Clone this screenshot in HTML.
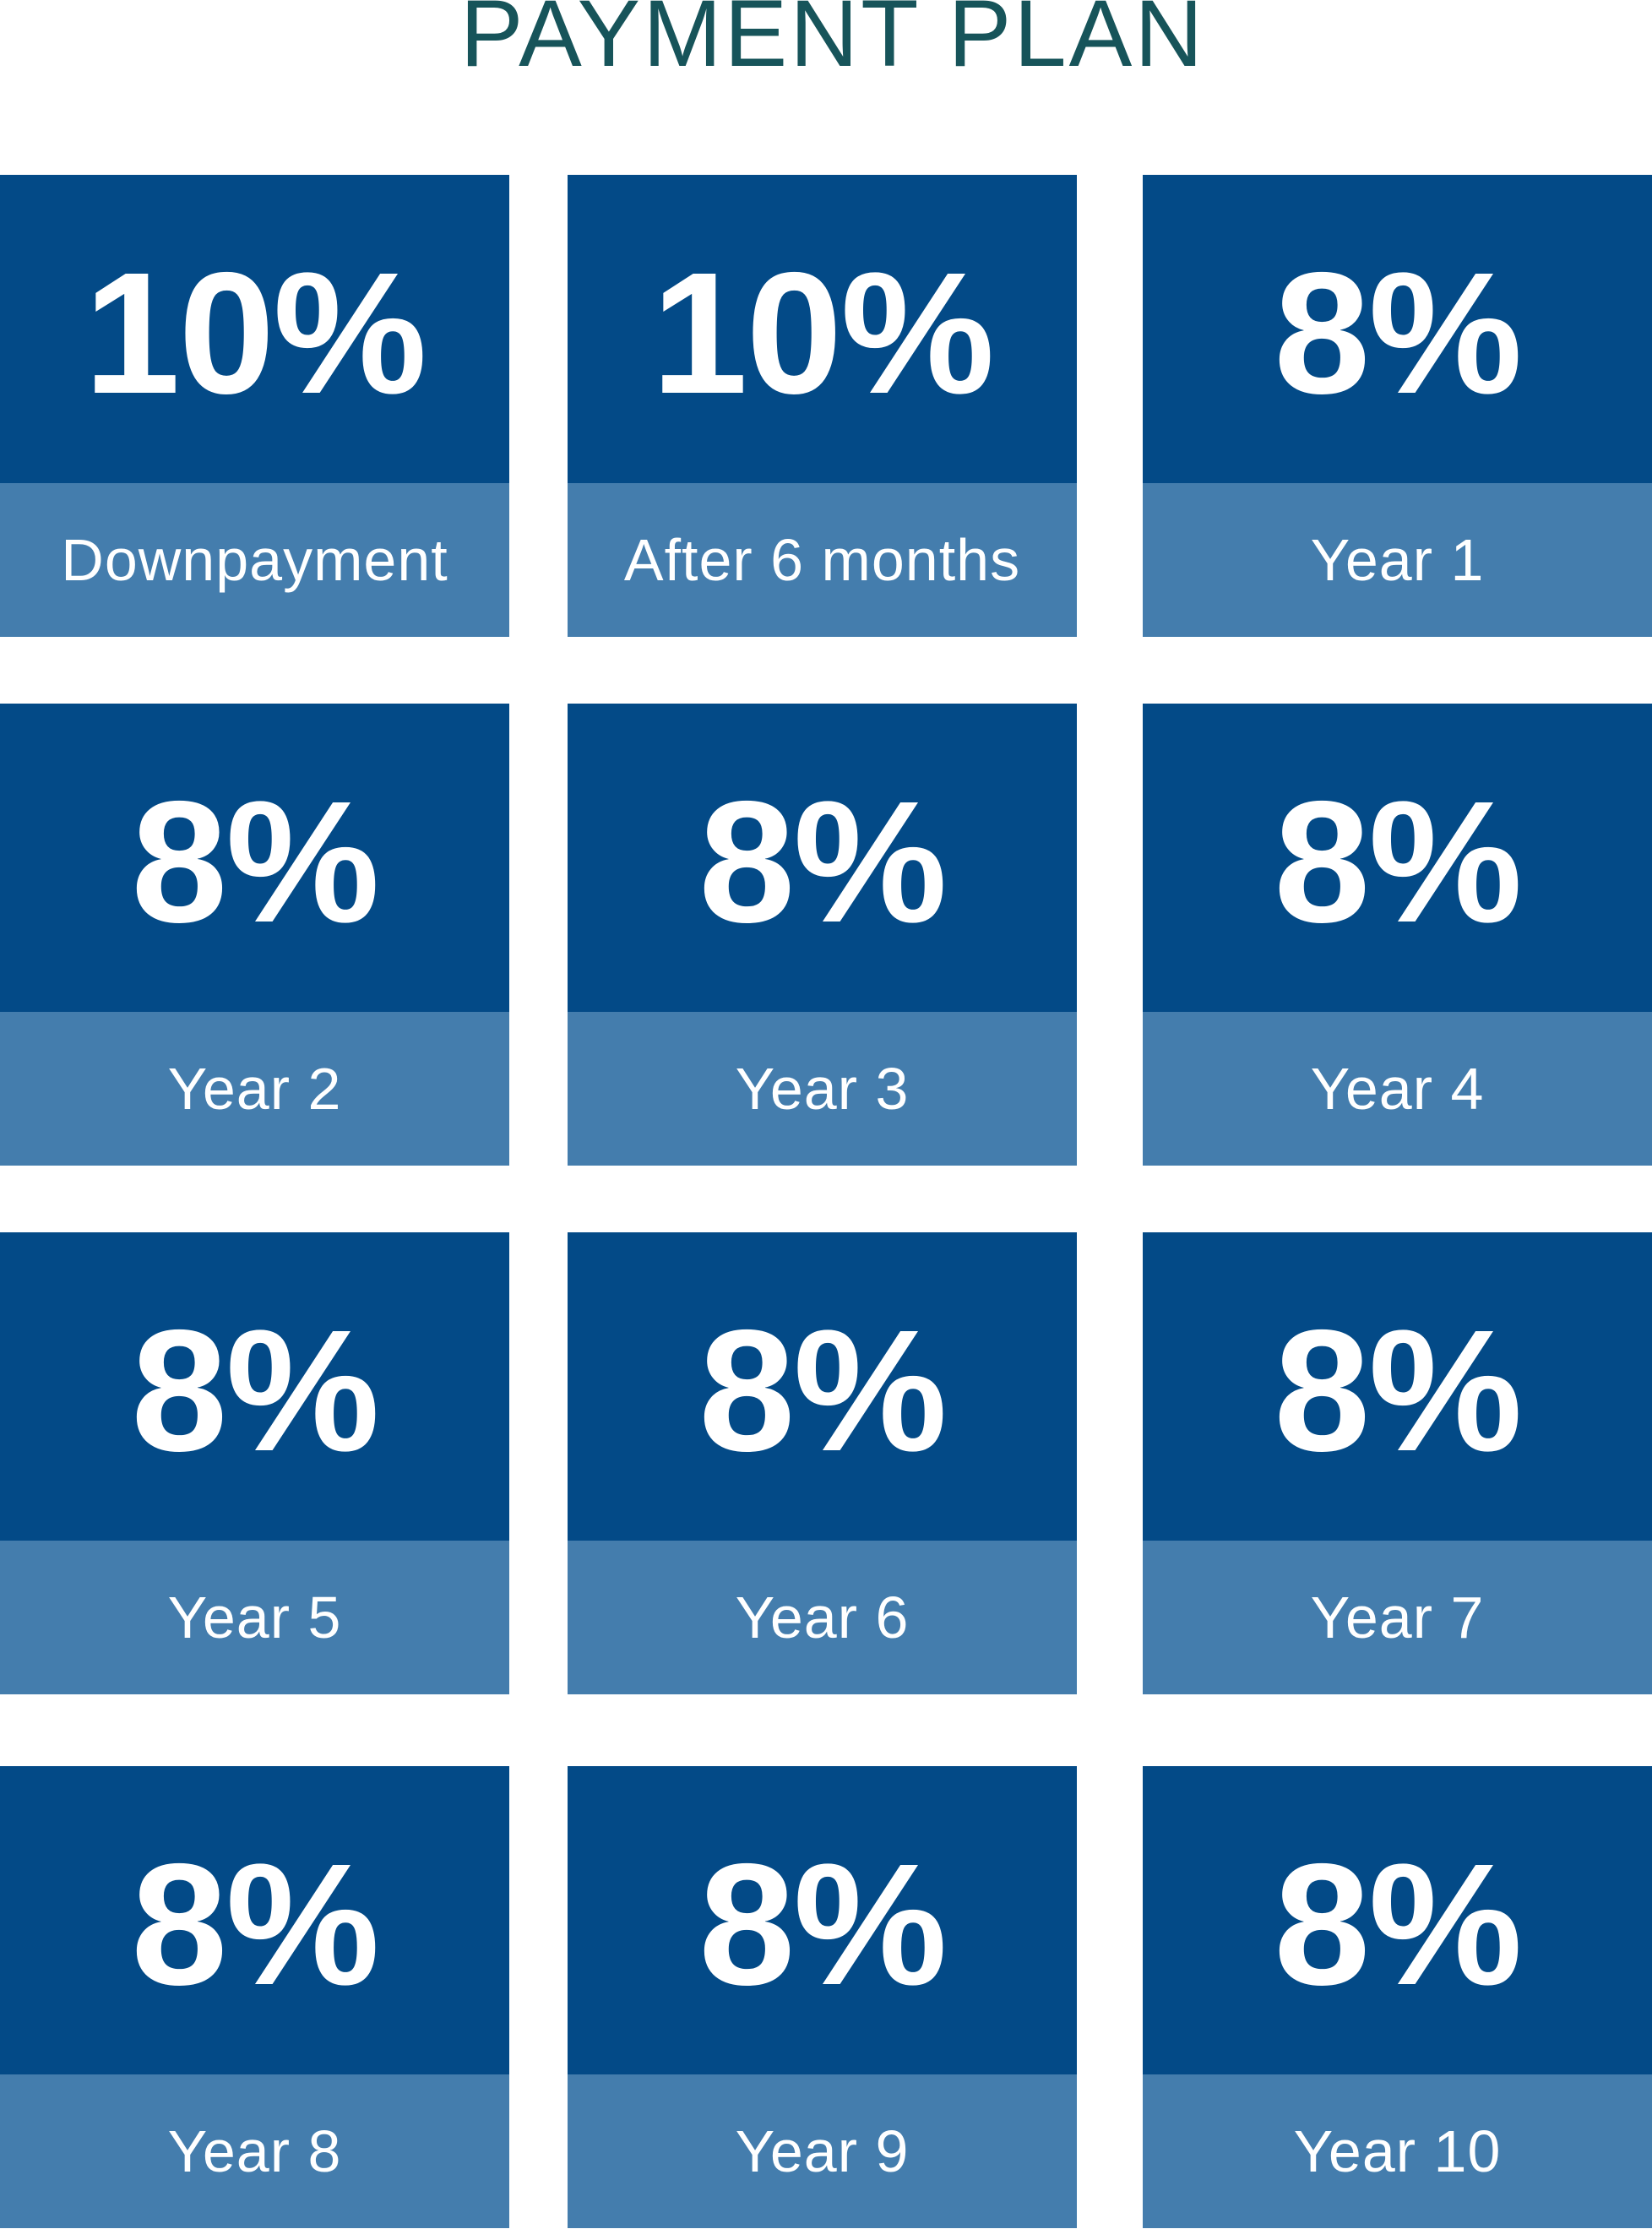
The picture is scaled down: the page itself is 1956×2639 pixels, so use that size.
<!DOCTYPE html>
<html><head><meta charset="utf-8"><style>
html,body{margin:0;padding:0;background:#fff;}
body{width:1956px;height:2639px;position:relative;overflow:hidden;font-family:"Liberation Sans",sans-serif;}
.title{position:absolute;left:8px;width:1956px;top:-25px;text-align:center;font-size:112px;color:#17545a;letter-spacing:3px;line-height:130px;}
.card{position:absolute;width:603px;}
.top{background:#034a87;height:365px;display:flex;align-items:center;justify-content:center;color:#fff;font-weight:bold;font-size:205px;letter-spacing:-2px;padding-top:10px;box-sizing:border-box;}
.bot{background:#447dad;height:182px;display:flex;align-items:center;justify-content:center;color:#fff;font-size:70px;letter-spacing:1px;}
</style></head><body>
<div class="title">PAYMENT PLAN</div>
<div class="card" style="left:0;top:207px"><div class="top">10%</div><div class="bot">Downpayment</div></div>
<div class="card" style="left:672px;top:207px"><div class="top">10%</div><div class="bot">After 6 months</div></div>
<div class="card" style="left:1353px;top:207px"><div class="top">8%</div><div class="bot">Year 1</div></div>
<div class="card" style="left:0;top:833px"><div class="top">8%</div><div class="bot">Year 2</div></div>
<div class="card" style="left:672px;top:833px"><div class="top">8%</div><div class="bot">Year 3</div></div>
<div class="card" style="left:1353px;top:833px"><div class="top">8%</div><div class="bot">Year 4</div></div>
<div class="card" style="left:0;top:1459px"><div class="top">8%</div><div class="bot">Year 5</div></div>
<div class="card" style="left:672px;top:1459px"><div class="top">8%</div><div class="bot">Year 6</div></div>
<div class="card" style="left:1353px;top:1459px"><div class="top">8%</div><div class="bot">Year 7</div></div>
<div class="card" style="left:0;top:2091px"><div class="top">8%</div><div class="bot">Year 8</div></div>
<div class="card" style="left:672px;top:2091px"><div class="top">8%</div><div class="bot">Year 9</div></div>
<div class="card" style="left:1353px;top:2091px"><div class="top">8%</div><div class="bot">Year 10</div></div>
</body></html>
